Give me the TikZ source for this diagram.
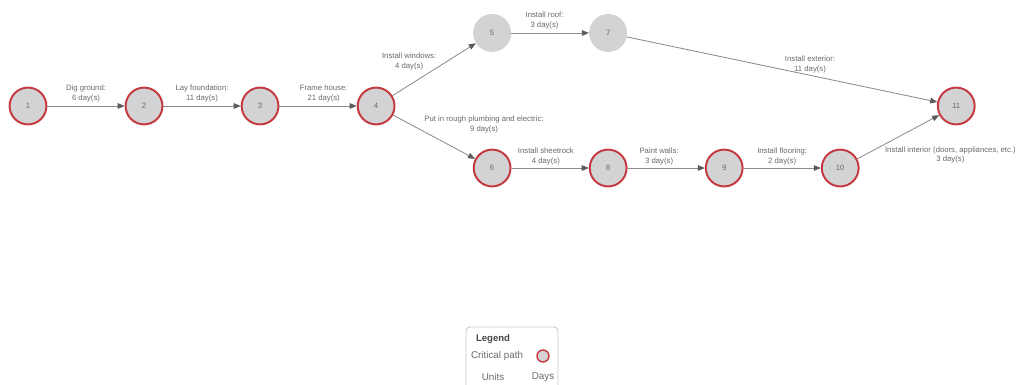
\documentclass[tikz,border=0pt]{standalone}
\usepackage{fontspec}
\setmainfont{Liberation Sans}
\usetikzlibrary{arrows.meta,positioning}
\definecolor{cpmRed}{RGB}{196,58,62}
\definecolor{cpmFill}{RGB}{211,211,214}
\definecolor{cpmLine}{RGB}{140,140,140}
\definecolor{cpmTip}{RGB}{90,90,90}
\definecolor{cpmText}{RGB}{105,105,105}
\definecolor{cpmHead}{RGB}{70,70,70}
\definecolor{cpmFrame}{RGB}{200,200,200}

\begin{document}
\begin{tikzpicture}[x=0.025cm,y=-0.025cm,on grid,
  event/.style={circle,fill=cpmFill,minimum size=0.92cm,inner sep=0pt,text=cpmText,font=\fontsize{5.5}{6}\selectfont},
  critical/.style={event,draw=cpmRed,line width=1.4pt},
  activity/.style={-{Triangle[length=5pt,width=4pt,color=cpmTip]},cpmLine,line width=0.6pt},
  duration/.style={midway,above=1.5pt,align=center,inner sep=1pt,text=cpmText,font=\fontsize{5.5}{7}\selectfont},
  legendtext/.style={text=cpmText,inner sep=1pt,font=\fontsize{7}{8}\selectfont}
]
  \useasboundingbox (0,0) rectangle (1016,385);
  % events
  \node[critical] (n1) at (28,106) {1};
  \node[critical,right=2.9cm of n1] (n2) {2};
  \node[critical,right=2.9cm of n2] (n3) {3};
  \node[critical,right=2.9cm of n3] (n4) {4};
  \node[event,minimum size=0.95cm,above right=1.825cm and 2.9cm of n4] (n5) {5};
  \node[event,minimum size=0.95cm,right=2.9cm of n5] (n7) {7};
  \node[critical,below right=1.55cm and 2.9cm of n4] (n6) {6};
  \node[critical,right=2.9cm of n6] (n8) {8};
  \node[critical,right=2.9cm of n8] (n9) {9};
  \node[critical,right=2.9cm of n9] (n10) {10};
  \node[critical,above right=1.55cm and 2.9cm of n10] (n11) {11};
  % activities
  \draw[activity] (n1) -- node[duration] {Dig ground:\\6 day(s)} (n2);
  \draw[activity] (n2) -- node[duration] {Lay foundation:\\11 day(s)} (n3);
  \draw[activity] (n3) -- node[duration,xshift=4pt] {Frame house:\\21 day(s)} (n4);
  \draw[activity] (n4) -- node[duration,pos=0.2,above=9.5pt] {Install windows:\\4 day(s)} (n5);
  \draw[activity] (n5) -- node[duration,xshift=-4pt] {Install roof:\\3 day(s)} (n7);
  \draw[activity] (n7) -- node[duration,pos=0.59,above=0.5pt] {Install exterior:\\11 day(s)} (n11);
  \draw[activity] (n4) -- node[duration,pos=0.36,above=-3pt,anchor=south west] {Put in rough plumbing and electric:\\9 day(s)} (n6);
  \draw[activity] (n6) -- node[duration,above=1pt,xshift=-3pt] {Install sheetrock\\4 day(s)} (n8);
  \draw[activity] (n8) -- node[duration,above=1pt,xshift=-5pt] {Paint walls:\\3 day(s)} (n9);
  \draw[activity] (n9) -- node[duration,above=1pt] {Install flooring:\\2 day(s)} (n10);
  \draw[activity] (n10) -- node[duration,pos=1,below=21pt,xshift=8pt] {Install interior (doors, appliances, etc.)\\3 day(s)} (n11);
  % legend
  \draw[cpmFrame,line width=0.6pt,rounded corners=3pt] (466,327) rectangle (558,398);
  \node[legendtext,text=cpmHead,font=\fontsize{6.8}{8}\bfseries] (legendtitle) at (493,339) {Legend};
  \node[legendtext] (cptext) at (497,356) {Critical path};
  \node[critical,minimum size=0.3cm,line width=1pt] (cpmark) at (543,356) {};
  \node[legendtext] (unitstext) at (493,377) {Units};
  \node[legendtext] (daystext) at (543,377) {Days};
\end{tikzpicture}
\end{document}
